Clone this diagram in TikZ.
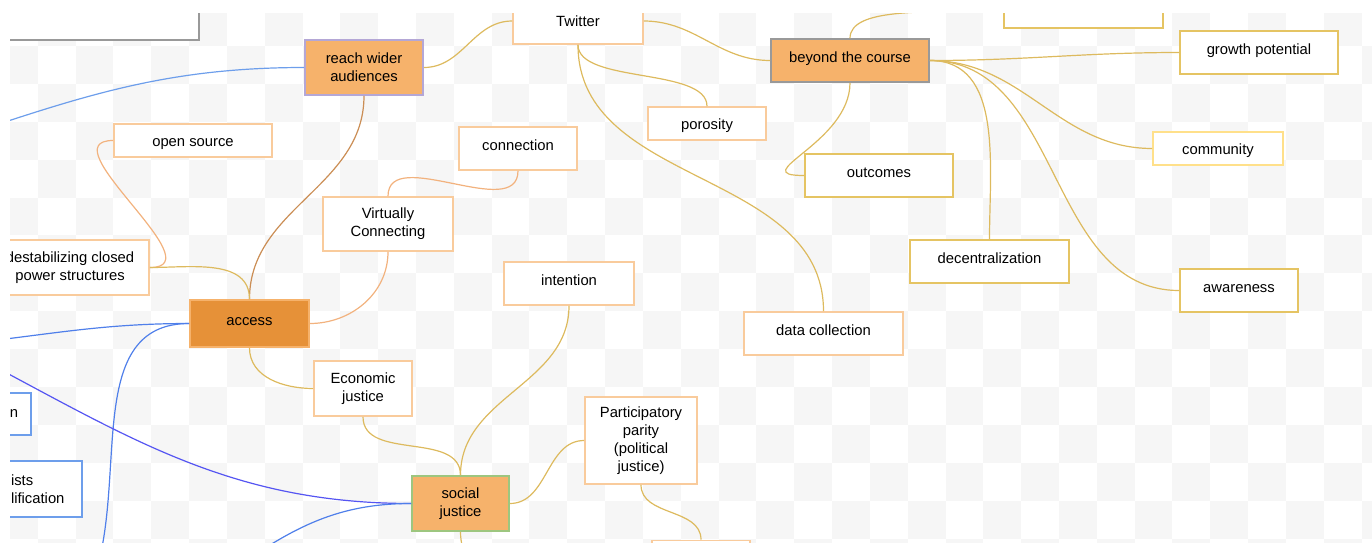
\documentclass[tikz,border=0pt]{standalone}
\usepackage{fontspec}
\setmainfont{Liberation Sans}
\definecolor{chk}{HTML}{F6F6F6}
\definecolor{peach}{HTML}{F9CB9C}
\definecolor{mustard}{HTML}{E5C463}
\definecolor{butter}{HTML}{FFE08A}
\definecolor{tangerine}{HTML}{F6B26B}
\definecolor{pumpkin}{HTML}{E69138}
\definecolor{lavender}{HTML}{B4A7D6}
\definecolor{sage}{HTML}{9DC67F}
\definecolor{slategray}{HTML}{999999}
\definecolor{goldline}{HTML}{DDBA5E}
\definecolor{peachline}{HTML}{F2B27E}
\definecolor{rustline}{HTML}{CB8E55}
\definecolor{skyline}{HTML}{6D9EEB}
\definecolor{blueline}{HTML}{4F7FEA}
\definecolor{violetline}{HTML}{5555F2}

\begin{document}
\begin{tikzpicture}[x=0.5pt, y=-0.5pt, line width=0.6pt,
	main/.style = {draw, rectangle, inner sep=0pt, align=center, line width=0.8pt, font=\fontsize{7.4}{9}\selectfont},
	sz/.style 2 args = {minimum width=#1*0.5pt, minimum height=#2*0.5pt},
	tall/.style = {text height=4pt, text depth=2.5pt},
	flat/.style = {text height=7pt, text depth=1pt},
	leaf/.style = {main, fill=white, draw=peach},
	gold/.style = {main, fill=white, draw=mustard},
	side/.style = {main, fill=white, draw=skyline},
	hub/.style = {main, fill=tangerine}]

	\useasboundingbox (0,0) rectangle (1372,542);
	\begin{scope}
		\clip (10,13) rectangle (1372,542);
		\foreach \c in {0,...,36}
			\foreach \r in {0,...,14}{
				\pgfmathtruncatemacro\odd{mod(\c+\r,2)}
				\ifnum\odd=1 \fill[chk] (37.82*\c,8+37.9*\r) rectangle ++(37.82,37.9); \fi
			}

		\node[main, fill=white, draw=slategray, sz={249}{60}] (prev) at (74.5,10) {};
		\node[hub, draw=lavender, sz={118}{55}] (reach) at (364,67.5) {reach wider\\audiences};
		\node[leaf, flat, sz={158}{33}] (open) at (193,140.5) {open source};
		\node[leaf, sz={130}{54}] (virt) at (388,224) {Virtually\\Connecting};
		\node[leaf, sz={158}{55}] (destab) at (70,267.5) {destabilizing closed\\power structures};
		\node[leaf, tall, sz={118}{43}] (conn) at (518,148.5) {connection};
		\node[leaf, sz={130}{46}] (twitter) at (578,21) {Twitter};
		\node[leaf, flat, sz={118}{33}] (poros) at (707,123.5) {porosity};
		\node[hub, tall, draw=slategray, sz={158}{43}] (beyond) at (850,60.5) {beyond the course};
		\node[gold, tall, sz={148}{43}] (outc) at (879,175.5) {outcomes};
		\node[gold, sz={159}{43}] (topbox) at (1083.5,6.5) {};
		\node[gold, tall, sz={158}{43}] (growth) at (1259,52.5) {growth potential};
		\node[main, flat, fill=white, draw=butter, sz={130}{33}] (commun) at (1218,148.5) {community};
		\node[gold, tall, sz={159}{43}] (decent) at (989.5,261.5) {decentralization};
		\node[gold, tall, sz={118}{43}] (aware) at (1239,290.5) {awareness};
		\node[leaf, tall, sz={159}{43}] (datacol) at (823.5,333.5) {data collection};
		\node[leaf, tall, sz={130}{43}] (intent) at (569,283.5) {intention};
		\node[leaf, sz={112}{87}] (partic) at (641,440.5) {Participatory\\parity\\(political\\justice)};
		\node[hub, draw=sage, sz={97}{55}] (social) at (460.5,503.5) {social\\justice};
		\node[hub, tall, fill=pumpkin, draw=tangerine, sz={119}{47}] (access) at (249.5,323.5) {access};
		\node[leaf, sz={98}{55}] (econ) at (363,388.5) {Economic\\justice};
		\node[side, sz={51}{42}, inner xsep=6.5pt, text width=12.5pt, align=right] (onbox) at (5.5,414) {on};
		\node[side, sz={82}{56}, inner xsep=5.5pt, text width=30pt, align=left] (ists) at (41,489) {ists\\lification};
		\node[leaf, sz={98}{59}] (below) at (701,570) {};

		\coordinate (lfA) at (-80,150);
		\coordinate (lfB) at (-60,346);
		\coordinate (lfC) at (95,575);
		\coordinate (lfD) at (-60,338);
		\coordinate (lfE) at (225,575);
		\coordinate (dnA) at (478,590);
		\coordinate (upA) at (960,9);

		\draw[skyline] (reach.west) to[out=180, in=18] (lfA);
		\draw[blueline] (access.west) to[out=180, in=5] (lfB);
		\draw[blueline] (access.west) to[out=180, in=72] (lfC);
		\draw[violetline] (social.west) to[out=180, in=-27] (lfD);
		\draw[blueline] (social.west) to[out=180, in=35] (lfE);

		\draw[goldline] (reach.east) to[out=0, in=180] (twitter.west);
		\draw[rustline] (reach.south) to[out=-90, in=90] (access.north);
		\draw[peachline] (open.west) to[out=180, in=0, looseness=1.3] (destab.east);
		\draw[goldline] (destab.east) to[out=0, in=90] (access.north);
		\draw[peachline] (virt.south) to[out=-90, in=0] (access.east);
		\draw[peachline] (conn.south) to[out=-90, in=90] (virt.north);
		\draw[goldline] (access.south) to[out=-90, in=180] (econ.west);
		\draw[goldline] (econ.south) to[out=-90, in=90] (social.north);
		\draw[goldline] (intent.south) to[out=-90, in=90] (social.north);
		\draw[goldline] (social.east) to[out=0, in=180] (partic.west);
		\draw[goldline] (partic.south) to[out=-90, in=90] (below.north);
		\draw[goldline] (social.south) to[out=-90, in=100] (dnA);

		\draw[goldline] (twitter.east) to[out=0, in=180] (beyond.west);
		\draw[goldline] (twitter.south) to[out=-90, in=90, looseness=0.7] (poros.north);
		\draw[goldline] (twitter.south) to[out=-90, in=90] (datacol.north);
		\draw[goldline] (beyond.north) to[out=90, in=190, looseness=0.7] (upA);
		\draw[goldline] (beyond.south) to[out=-90, in=180, looseness=1.5] (outc.west);
		\draw[goldline] (beyond.east) to[out=0, in=180] (growth.west);
		\draw[goldline] (beyond.east) to[out=0, in=180] (commun.west);
		\draw[goldline] (beyond.east) to[out=0, in=90] (decent.north);
		\draw[goldline] (beyond.east) to[out=0, in=180] (aware.west);
	\end{scope}
\end{tikzpicture}
\end{document}
